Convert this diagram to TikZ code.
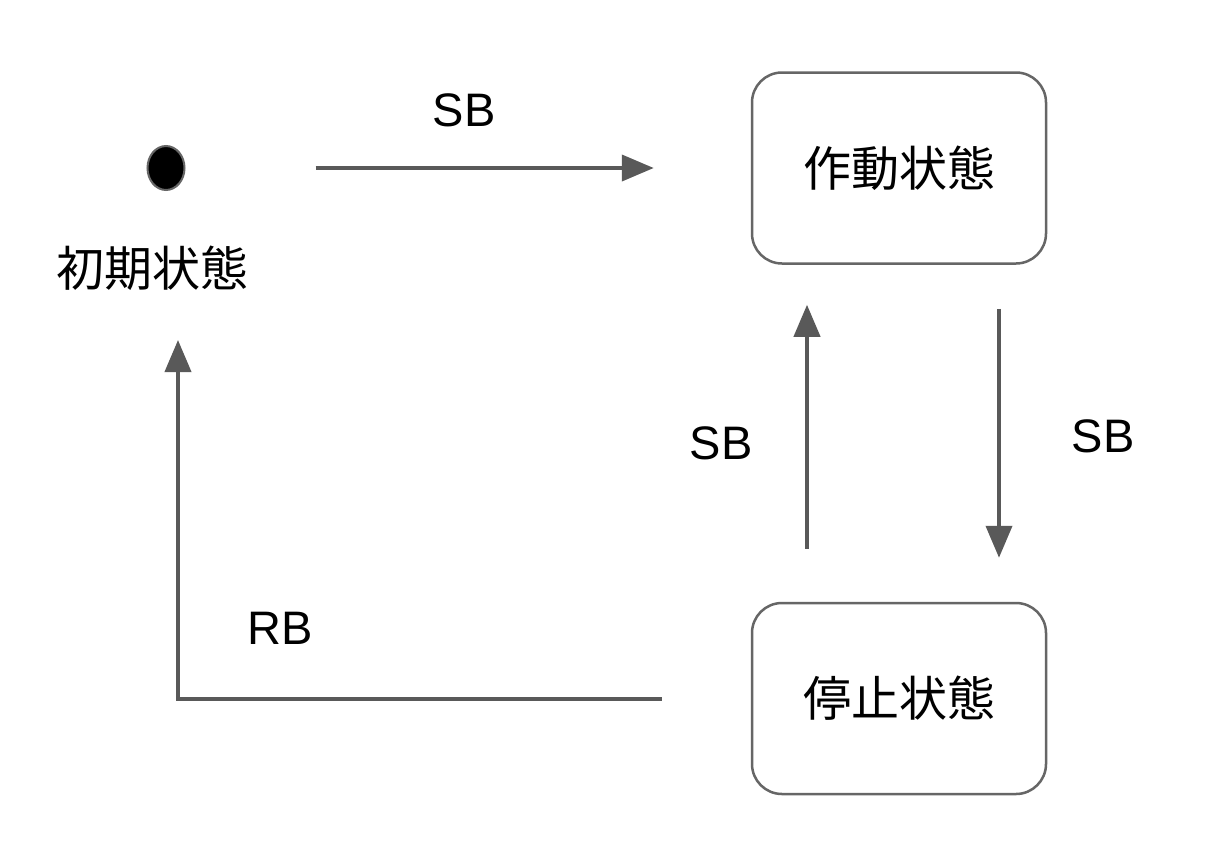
\documentclass[tikz,border=0pt]{standalone}
\usepackage{fontspec}
\setmainfont{Liberation Sans}
\newfontfamily\cjk{Noto Sans CJK JP}
\usetikzlibrary{arrows.meta,shapes.geometric}
\definecolor{linegray}{HTML}{595959}
\definecolor{boxgray}{HTML}{666666}
\tikzset{
  statebox/.style={draw=boxgray, line width=2.5pt, rounded corners=30pt,
    minimum width=294pt, minimum height=191pt, inner sep=0pt,
    font=\cjk\fontsize{48}{56}\selectfont},
  trans/.style={draw=linegray, line width=4pt,
    -{Triangle[length=32pt,width=26pt]}},
  lbl/.style={inner sep=0pt, font=\fontsize{47}{56}\selectfont},
  cjklbl/.style={inner sep=0pt, font=\cjk\fontsize{48}{56}\selectfont}
}
\begin{document}
\begin{tikzpicture}[x=1pt,y=-1pt]
\useasboundingbox (0,0) rectangle (1210,844);
\fill[white] (0,0) rectangle (1210,844);
% nodes
\node[ellipse, fill=black, draw=boxgray, line width=2pt, inner sep=0pt,
  minimum width=37pt, minimum height=44pt] (init) at (166,168) {};
\node[cjklbl] (initlabel) at (152,268) {初期状態};
\node[statebox] (act) at (899,168) {作動状態};
\node[statebox] (stop) at (899,698.5) {停止状態};
\coordinate (rbtip) at (178,340);
% connectors
\draw[trans, shorten <=130pt, shorten >=97pt] (init) -- (act);
\draw[trans, shorten <=53pt, shorten >=40pt]
  ([xshift=-92pt]stop.north) -- ([xshift=-92pt]act.south);
\draw[trans, shorten <=44pt, shorten >=44pt]
  ([xshift=100pt]act.south) -- ([xshift=100pt]stop.north);
\draw[trans, shorten <=89pt] (stop.west) -| (rbtip);
% labels
\node[lbl] (sbtop) at (464,110) {SB};
\node[lbl] (sbleft) at (721,443) {SB};
\node[lbl] (sbright) at (1103,436) {SB};
\node[lbl] (rb) at (280,628) {RB};
\end{tikzpicture}
\end{document}
